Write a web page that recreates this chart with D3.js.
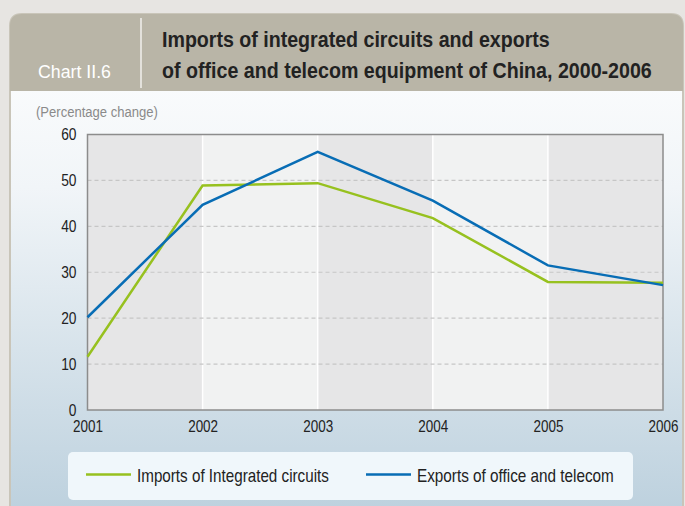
<!DOCTYPE html>
<html>
<head>
<meta charset="utf-8">
<script src="https://cdn.jsdelivr.net/npm/d3@7"></script>
<style>
  html, body { margin: 0; padding: 0; background: #e7e5e2; }
  svg { display: block; }
  text { font-family: "Liberation Sans", Arial, sans-serif; }
</style>
</head>
<body>
<div id="chart"></div>
<script>
const years = [2001, 2002, 2003, 2004, 2005, 2006];
const importsIC = [11.6, 48.9, 49.4, 41.8, 27.9, 27.7];
const exportsOT = [20.2, 44.7, 56.2, 45.6, 31.5, 27.2];
const yTicks = [0, 10, 20, 30, 40, 50, 60];
const seriesNames = ["Imports of Integrated circuits", "Exports of office and telecom"];
const seriesColors = ["#97c11f", "#086db5"];

const width = 685;
const height = 506;
const margin = { top: 134.5, right: 22, bottom: 96, left: 87.5 };

// squeeze text to look like a narrow face
function narrow(sel, factor) {
  sel.each(function() {
    const w = this.getComputedTextLength();
    d3.select(this)
      .attr("textLength", w * factor)
      .attr("lengthAdjust", "spacingAndGlyphs");
  });
}

function fitTo(sel, w) {
  sel.attr("textLength", w).attr("lengthAdjust", "spacingAndGlyphs");
}

// scale a text horizontally so it spans w pixels from (x0, y0)
function scaleTo(sel, x0, y0, w) {
  sel.attr("x", 0).attr("y", 0);
  sel.each(function() {
    const k = w / this.getComputedTextLength();
    d3.select(this).attr("transform", `translate(${x0},${y0}) scale(${k},1)`);
  });
}

const svg = d3.select("#chart").append("svg")
  .attr("width", width)
  .attr("height", height);

const defs = svg.append("defs");
const bodyGrad = defs.append("linearGradient")
  .attr("id", "bodyGrad")
  .attr("x1", 0).attr("y1", 0).attr("x2", 0).attr("y2", 1);
bodyGrad.append("stop").attr("offset", "0%").attr("stop-color", "#ffffff");
bodyGrad.append("stop").attr("offset", "35%").attr("stop-color", "#f1f5f8");
bodyGrad.append("stop").attr("offset", "100%").attr("stop-color", "#bdd1de");

// panel
svg.append("path")
  .attr("d", `M10,${height + 5} L10,26 Q10,14 22,14 L671,14 Q683,14 683,26 L683,${height + 5} Z`)
  .attr("fill", "url(#bodyGrad)")
  .attr("stroke", "#c9c5b9")
  .attr("stroke-width", 2);

// header
svg.append("path")
  .attr("d", "M10,91 L10,26 Q10,14 22,14 L671,14 Q683,14 683,26 L683,91 Z")
  .attr("fill", "#b9b5a7");

svg.append("line")
  .attr("x1", 141).attr("x2", 141)
  .attr("y1", 18).attr("y2", 88)
  .attr("stroke", "#ffffff")
  .attr("stroke-width", 1.2);

svg.append("text")
  .attr("fill", "#ffffff")
  .attr("font-size", 18.5)
  .text("Chart II.6")
  .call(scaleTo, 38, 78, 73);

svg.append("text")
  .attr("font-size", 22)
  .attr("font-weight", "bold")
  .attr("fill", "#222222")
  .text("Imports of integrated circuits and exports")
  .call(scaleTo, 162, 47, 388);

svg.append("text")
  .attr("font-size", 22)
  .attr("font-weight", "bold")
  .attr("fill", "#222222")
  .text("of office and telecom equipment of China, 2000-2006")
  .call(scaleTo, 162, 78, 490);

svg.append("text")
  .attr("fill", "#8a8a8a")
  .attr("font-size", 15)
  .text("(Percentage change)")
  .call(scaleTo, 36, 117, 122);

const innerW = width - margin.left - margin.right;
const innerH = height - margin.top - margin.bottom;

const x = d3.scaleLinear()
  .domain(d3.extent(years))
  .range([margin.left, margin.left + innerW]);

const y = d3.scaleLinear()
  .domain([0, 60])
  .range([margin.top + innerH, margin.top]);

// alternating bands
const plot = svg.append("g");
plot.selectAll("rect.band")
  .data(years.slice(0, -1))
  .join("rect")
  .attr("class", "band")
  .attr("x", d => x(d))
  .attr("y", y(60))
  .attr("width", d => x(d + 1) - x(d))
  .attr("height", y(0) - y(60))
  .attr("fill", (d, i) => i % 2 === 0 ? "#e6e6e7" : "#f1f2f2");

plot.selectAll("line.vsep")
  .data(years.slice(1, -1))
  .join("line")
  .attr("class", "vsep")
  .attr("x1", d => x(d)).attr("x2", d => x(d))
  .attr("y1", y(60)).attr("y2", y(0))
  .attr("stroke", "#ffffff")
  .attr("stroke-width", 1.5);

plot.selectAll("line.grid")
  .data(yTicks.filter(t => t > 0 && t < 60))
  .join("line")
  .attr("class", "grid")
  .attr("x1", x(2001)).attr("x2", x(2006))
  .attr("y1", d => y(d)).attr("y2", d => y(d))
  .attr("stroke", "#c6c6c6")
  .attr("stroke-width", 1.2)
  .attr("stroke-dasharray", "4,3");

// axes
const yAxis = svg.append("g")
  .attr("transform", `translate(${margin.left},0)`)
  .call(d3.axisLeft(y).tickValues(yTicks).tickSize(0).tickPadding(11));
yAxis.select(".domain").remove();
yAxis.selectAll("text")
  .attr("font-size", 16)
  .attr("fill", "#222222")
  .call(narrow, 0.86);

const xAxis = svg.append("g")
  .attr("transform", `translate(0,${y(0)})`)
  .call(d3.axisBottom(x).tickValues(years).tickFormat(d3.format("d")).tickSize(0).tickPadding(11));
xAxis.select(".domain").remove();
xAxis.selectAll("text")
  .attr("font-size", 16)
  .attr("fill", "#222222")
  .call(narrow, 0.84);

svg.append("rect")
  .attr("x", x(2001)).attr("y", y(60))
  .attr("width", x(2006) - x(2001))
  .attr("height", y(0) - y(60))
  .attr("fill", "none")
  .attr("stroke", "#8c8c8c")
  .attr("stroke-width", 1.5);

// lines
const line = d3.line()
  .x((d, i) => x(years[i]))
  .y(d => y(d));

[importsIC, exportsOT].forEach((series, k) => {
  svg.append("path")
    .datum(series)
    .attr("fill", "none")
    .attr("stroke", seriesColors[k])
    .attr("stroke-width", 2.5)
    .attr("stroke-linejoin", "miter")
    .attr("d", line);
});

// legend
const legend = svg.append("g");
legend.append("rect")
  .attr("x", 68).attr("y", 452)
  .attr("width", 565).attr("height", 48)
  .attr("rx", 5)
  .attr("fill", "#f0f7fb");

const legendX = [86, 366];
const legendTextW = [192, 197];
seriesNames.forEach((name, k) => {
  legend.append("line")
    .attr("x1", legendX[k]).attr("x2", legendX[k] + 45)
    .attr("y1", 474.5).attr("y2", 474.5)
    .attr("stroke", seriesColors[k])
    .attr("stroke-width", 2.5);
  legend.append("text")
    .attr("font-size", 18)
    .attr("fill", "#222222")
    .text(name)
    .call(scaleTo, legendX[k] + 51, 482, legendTextW[k]);
});
</script>
</body>
</html>
